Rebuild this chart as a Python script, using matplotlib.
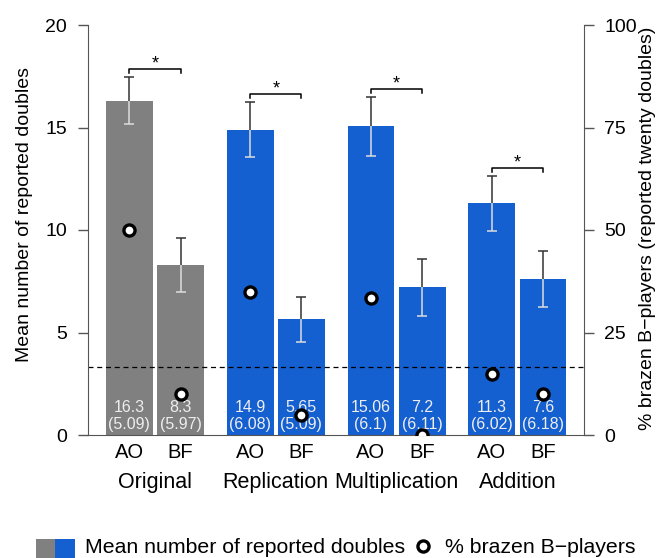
import matplotlib
matplotlib.use("Agg")
import matplotlib.pyplot as plt
from matplotlib.patches import Rectangle
from matplotlib.lines import Line2D

plt.rcParams['font.family'] = ['Liberation Sans', 'DejaVu Sans']

# data
groups = ['Original', 'Replication', 'Multiplication', 'Addition']
conditions = ['AO', 'BF']
mean_doubles = [16.3, 8.3, 14.9, 5.65, 15.06, 7.2, 11.3, 7.6]
sd_doubles = [5.09, 5.97, 6.08, 5.09, 6.1, 6.11, 6.02, 6.18]
ci_doubles = [1.15, 1.33, 1.33, 1.1, 1.44, 1.38, 1.33, 1.37]
pct_brazen = [50, 10, 35, 5, 33.5, 0, 15, 10]
chance_level = 20 / 6

GRAY = '#808080'
BLUE = '#1560D0'
AXIS_COLOR = '#555555'

W, H = 662, 558
fig = plt.figure(figsize=(W / 100, H / 100), dpi=100)
ax = fig.add_axes([88 / W, 1 - 435 / H, 496 / W, 410 / H])

group_step = 2.36
bar_width = 0.912
xs = []
for g in range(len(groups)):
    xs += [g * group_step, g * group_step + 1.0]
colors = [GRAY if i < 2 else BLUE for i in range(len(mean_doubles))]

ax.bar(xs, mean_doubles, width=bar_width, color=colors, zorder=1)

# error bars: dark above the bar top, light inside the bar
tops = [m + e for m, e in zip(mean_doubles, ci_doubles)]
bottoms = [m - e for m, e in zip(mean_doubles, ci_doubles)]
ax.vlines(xs, mean_doubles, tops, color='#333333', lw=1.1, zorder=3)
ax.plot(xs, tops, ls='none', marker='_', ms=7.7, mew=1.1, color='#333333', zorder=3)
ax.vlines(xs, bottoms, mean_doubles, color='#DDDDDD', lw=1.1, zorder=3)
ax.plot(xs, bottoms, ls='none', marker='_', ms=7.7, mew=1.1, color='#DDDDDD', zorder=3)

# significance brackets
for g in range(len(groups)):
    x0, x1 = xs[2 * g], xs[2 * g + 1]
    h = max(tops[2 * g], tops[2 * g + 1]) + 0.4
    ax.plot([x0, x0, x1, x1], [h - 0.2, h, h, h - 0.2], color='black', lw=1.1, zorder=3)
    ax.text((x0 + x1) / 2, h - 0.18, '*', ha='center', va='bottom', fontsize=13)

# chance level
ax.axhline(chance_level, color='black', lw=0.9, ls=(0, (4, 3)), zorder=2)

# value labels inside bars
for x, m, s in zip(xs, mean_doubles, sd_doubles):
    ax.annotate(f'{m:g}', (x, 0), xytext=(0, 16.6), textcoords='offset points',
                ha='center', va='baseline', fontsize=11.5, color='#EEEEEE', zorder=4)
    ax.annotate(f'({s:g})', (x, 0), xytext=(0, 4.4), textcoords='offset points',
                ha='center', va='baseline', fontsize=11.5, color='#EEEEEE', zorder=4)

# condition and group labels
for g, name in enumerate(groups):
    for c, cond in enumerate(conditions):
        ax.annotate(cond, (xs[2 * g + c], 0), xytext=(0, -16.6),
                    textcoords='offset points', ha='center', va='baseline', fontsize=14.5,
                    annotation_clip=False)
    ax.annotate(name, ((xs[2 * g] + xs[2 * g + 1]) / 2, 0), xytext=(0, -38.3),
                textcoords='offset points', ha='center', va='baseline', fontsize=15.5,
                annotation_clip=False)

ax.set_xlim(-0.807, 8.88)
ax.set_ylim(0, 20)
ax.set_xticks([])
ax.set_yticks([0, 5, 10, 15, 20])
ax.spines['top'].set_visible(False)
ax.spines['right'].set_visible(False)
ax.spines['left'].set_color(AXIS_COLOR)
ax.spines['bottom'].set_color(AXIS_COLOR)
ax.tick_params(axis='y', length=7.2, width=1, color=AXIS_COLOR, labelsize=14, pad=8)

ax2 = ax.twinx()
ax2.plot(xs, pct_brazen, ls='none', marker='o', ms=8, mew=2.4, mfc='white', mec='black', zorder=5)
ax2.set_ylim(0, 100)
ax2.set_yticks([0, 25, 50, 75, 100])
for side in ['top', 'left', 'bottom']:
    ax2.spines[side].set_visible(False)
ax2.spines['right'].set_color(AXIS_COLOR)
ax2.tick_params(axis='y', length=7.2, width=1, color=AXIS_COLOR, labelsize=14, pad=7.5)

fig.text(25 / W, 1 - 215 / H, 'Mean number of reported doubles', rotation=90,
         ha='center', va='center', fontsize=14)
fig.text(648 / W, 1 - 228 / H, '% brazen B\u2212players (reported twenty doubles)', rotation=90,
         ha='center', va='center', fontsize=14)

# legend drawn by hand
fig.add_artist(Rectangle((36 / W, 1 - 558 / H), 19 / W, 19 / H, transform=fig.transFigure,
                         color=GRAY, lw=0))
fig.add_artist(Rectangle((55 / W, 1 - 558 / H), 20 / W, 19 / H, transform=fig.transFigure,
                         color=BLUE, lw=0))
fig.text(85 / W, 1 - 553 / H, 'Mean number of reported doubles', ha='left', va='baseline', fontsize=15.3)
fig.add_artist(Line2D([423 / W], [1 - 545.5 / H], transform=fig.transFigure, ls='none',
                      marker='o', ms=8, mew=2.4, mfc='white', mec='black'))
fig.text(445 / W, 1 - 553 / H, '% brazen B\u2212players', ha='left', va='baseline', fontsize=15.3)

fig.savefig('out.png', dpi=100)
